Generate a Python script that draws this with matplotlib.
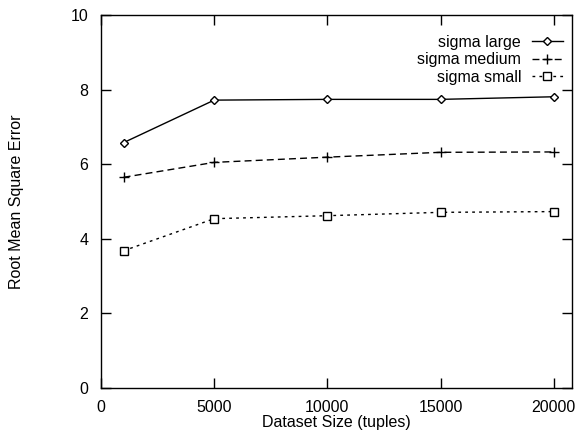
import matplotlib
matplotlib.use('Agg')
import matplotlib.pyplot as plt

plt.rcParams['font.family'] = ['Liberation Sans', 'DejaVu Sans']
plt.rcParams['font.size'] = 11.5

# dataset sizes and errors for each sigma setting
sizes = [1000, 5000, 10000, 15000, 20000]
sigma_large = [6.58, 7.72, 7.74, 7.74, 7.81]
sigma_medium = [5.65, 6.05, 6.19, 6.32, 6.33]
sigma_small = [3.68, 4.54, 4.62, 4.71, 4.73]

fig = plt.figure(figsize=(5.77, 4.32), dpi=100)
ax = fig.add_axes([0.175, 0.102, 0.816, 0.863])

ax.plot(sizes, sigma_large, color='black', lw=1, ls='-', marker='D', ms=4,
        mfc='white', mec='black', mew=1, label='sigma large')
ax.plot(sizes, sigma_medium, color='black', lw=1, ls=(0, (5, 3)), marker='+', ms=7,
        mew=1, label='sigma medium')
ax.plot(sizes, sigma_small, color='black', lw=1, ls=(0, (2, 3)), marker='s', ms=5.5,
        mfc='white', mec='black', mew=1, label='sigma small')

ax.set_xlim(0, 20800)
ax.set_ylim(0, 10)
ax.set_xticks([0, 5000, 10000, 15000, 20000])
ax.set_yticks([0, 2, 4, 6, 8, 10])
ax.tick_params(direction='in', top=True, right=True, length=7, width=1, pad=9)
for s in ax.spines.values():
    s.set_linewidth(1)

ax.set_xlabel('Dataset Size (tuples)', labelpad=0)
ax.set_ylabel('Root Mean Square Error', labelpad=34)

ax.legend(loc='upper right', bbox_to_anchor=(1.011, 0.986), frameon=False,
          markerfirst=False, handlelength=1.9, handletextpad=0.7,
          labelspacing=0.15, borderaxespad=0.5)

fig.savefig('out.png', dpi=100)
